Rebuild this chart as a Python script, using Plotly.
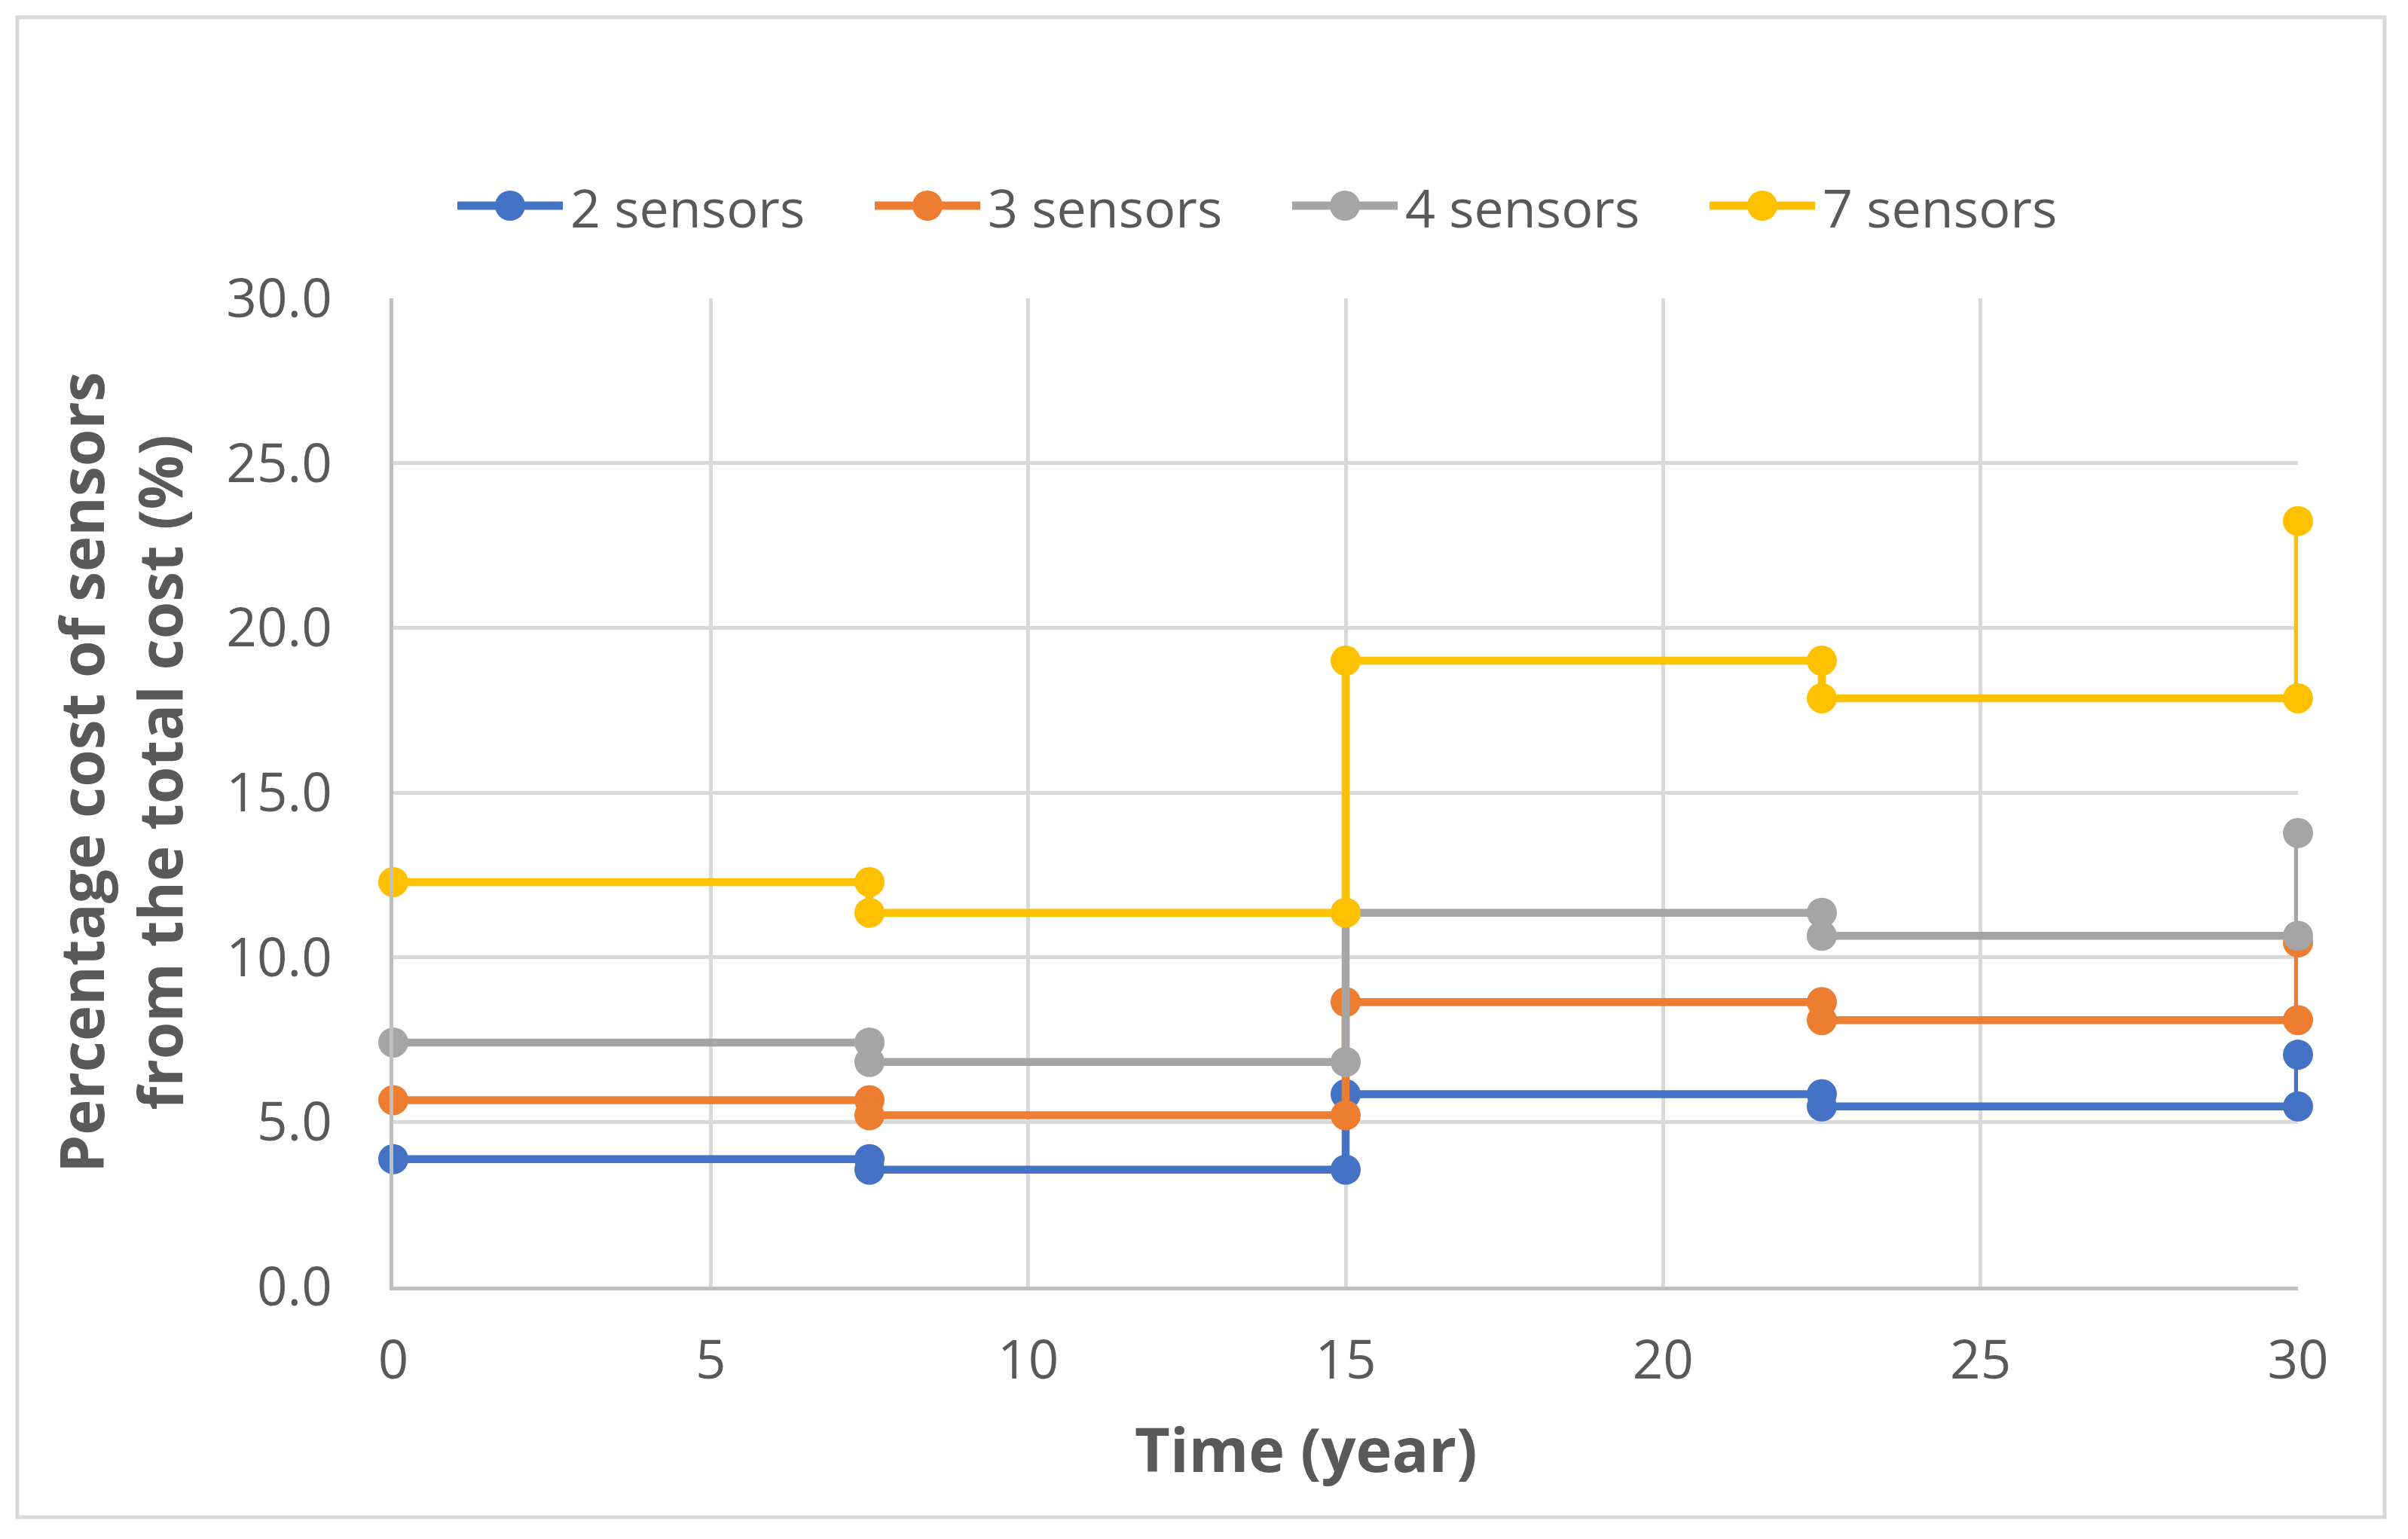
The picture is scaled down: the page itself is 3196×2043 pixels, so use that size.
import plotly.graph_objects as go

# ---------------- data ----------------
years = [0, 7.5, 7.5, 15, 15, 22.5, 22.5, 30, 30]
series_names = ["2 sensors", "3 sensors", "4 sensors", "7 sensors"]
s2 = [3.87, 3.87, 3.55, 3.55, 5.84, 5.84, 5.47, 5.47, 7.04]
s3 = [5.66, 5.66, 5.20, 5.20, 8.64, 8.64, 8.09, 8.09, 10.45]
s4 = [7.41, 7.41, 6.82, 6.82, 11.35, 11.35, 10.65, 10.65, 13.77]
s7 = [12.28, 12.28, 11.35, 11.35, 19.00, 19.00, 17.86, 17.86, 23.24]
x_ticks = [0, 5, 10, 15, 20, 25, 30]
y_ticks = [0, 5, 10, 15, 20, 25, 30]
x_title = "Time (year)"
y_title = "Percentage cost of sensors<br>from the total cost (%)"

colors = ["#4472C4", "#ED7D31", "#A5A5A5", "#FFC000"]
values = [s2, s3, s4, s7]

W, H = 3196, 2043
OFF = 8  # page body margin
L, R, T, B = 522, 146, 396, 335   # in page coordinates
PW, PH = W - L - R, H - T - B


def px(X):
    return (X - L) / PW


def py(Y):
    return (H - B - Y) / PH


FONT = "Open Sans"
TXT = "#595959"

fig = go.Figure()
for name, vals, col in zip(series_names, values, colors):
    fig.add_trace(go.Scatter(
        x=years, y=vals, name=name, mode="lines+markers",
        line=dict(color=col, width=10.5),
        marker=dict(color=col, size=40, line=dict(width=0)),
        showlegend=False, cliponaxis=False,
    ))

shapes = []
annotations = []

# chart border
shapes.append(dict(type="rect", xref="paper", yref="paper",
                   x0=px(23), x1=px(3165), y0=py(2014), y1=py(23),
                   line=dict(color="#D9D9D9", width=5), layer="below"))

# custom legend (line + marker + label)
leg_y = 273
leg_start = 607
leg_step = 554
for i, (name, col) in enumerate(zip(series_names, colors)):
    x0 = leg_start + i * leg_step
    x1 = x0 + 140
    shapes.append(dict(type="line", xref="paper", yref="paper",
                       x0=px(x0), x1=px(x1), y0=py(leg_y), y1=py(leg_y),
                       line=dict(color=col, width=11)))
    shapes.append(dict(type="circle", xref="paper", yref="paper",
                       xsizemode="pixel", ysizemode="pixel",
                       xanchor=px((x0 + x1) / 2), yanchor=py(leg_y),
                       x0=-20, x1=20, y0=-20, y1=20,
                       fillcolor=col, line=dict(width=0)))
    annotations.append(dict(xref="paper", yref="paper", x=px(x1 + 8), y=py(leg_y + 2),
                            xanchor="left", yanchor="middle", showarrow=False,
                            text=name, font=dict(family=FONT, size=70, color=TXT)))

# axis titles
annotations.append(dict(xref="paper", yref="paper", x=px(1733), y=py(1922),
                        xanchor="center", yanchor="middle", showarrow=False,
                        text="<b>" + x_title + "</b>",
                        font=dict(family=FONT, size=81, color=TXT)))
annotations.append(dict(xref="paper", yref="paper", x=px(158), y=py(1026),
                        xanchor="center", yanchor="middle", showarrow=False,
                        textangle=-90,
                        text="<b>" + y_title + "</b>",
                        font=dict(family=FONT, size=80, color=TXT)))

fig.update_layout(
    width=W, height=H,
    margin=dict(l=L - OFF, r=R + OFF, t=T - OFF, b=B + OFF, pad=0),
    paper_bgcolor="white", plot_bgcolor="white",
    shapes=shapes, annotations=annotations,
    showlegend=False,
)
fig.update_xaxes(
    range=[0, 30], tickvals=x_ticks, showgrid=True, gridcolor="#D9D9D9", gridwidth=5,
    showline=True, linecolor="#BFBFBF", linewidth=5, zeroline=False,
    ticks="", tickfont=dict(family=FONT, size=71, color=TXT), ticklabelstandoff=32,
)
fig.update_yaxes(
    range=[0, 30], tickvals=y_ticks, tickformat=".1f", showgrid=True, gridcolor="#D9D9D9",
    gridwidth=5, showline=True, linecolor="#BFBFBF", linewidth=5, zeroline=False,
    ticks="", tickfont=dict(family=FONT, size=71, color=TXT), ticklabelstandoff=62,
)

fig.write_html("out.html")
